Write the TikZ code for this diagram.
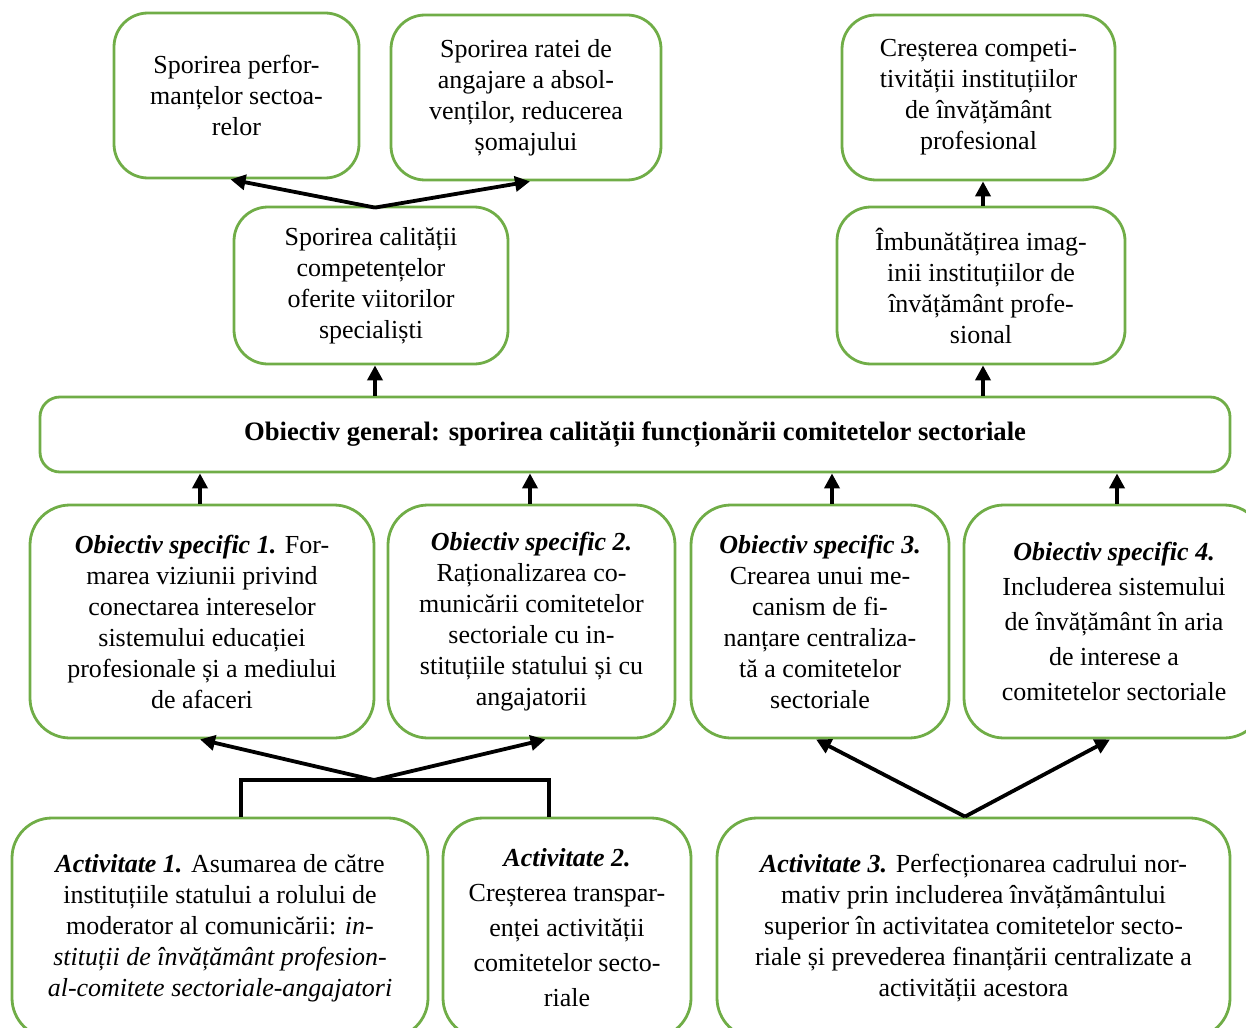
\documentclass[tikz,border=0pt]{standalone}
\usepackage{fontspec}
\setmainfont{Liberation Serif}
\usetikzlibrary{arrows.meta,calc}
\definecolor{boxgreen}{RGB}{112,173,71}
\tikzset{
  box/.style={draw=boxgreen, line width=2.8pt, rounded corners=34pt, inner sep=0pt, align=center,
    font=\fontsize{26}{31}\selectfont},
  wide/.style={font=\fontsize{26}{35}\selectfont},
  arr/.style={line width=3.8pt, -{Triangle[length=15pt,width=15pt]}},
  ln/.style={line width=3.5pt},
}
\newcommand{\bi}[1]{\textbf{\textit{#1}}}
\begin{document}
\begin{tikzpicture}[x=1pt,y=-1pt]
\useasboundingbox (0,0) rectangle (1246,1027);
\clip (0,0) rectangle (1246,1027);
% top row
\node[box, minimum width=245pt, minimum height=165pt] (B1) at (236.5,95.5) {Sporirea perfor-\\manțelor sectoa-\\relor};
\node[box, minimum width=270pt, minimum height=165pt] (B2) at (526,97.5) {Sporirea ratei de\\angajare a absol-\\venților, reducerea\\șomajului};
\node[box, minimum width=273pt, minimum height=165pt] (B3) at (978.5,97.5) {Creșterea competi-\\tivității instituțiilor\\de învățământ\\profesional};
% second row
\node[box, minimum width=274pt, minimum height=157pt] (B4) at (371,285.5) {Sporirea calității\\competențelor\\oferite viitorilor\\specialiști};
\node[box, minimum width=288pt, minimum height=157pt] (B5) at (981,285.5) {Îmbunătățirea imag-\\inii instituțiilor de\\învățământ profe-\\sional};
% general
\node[box, rounded corners=20pt, minimum width=1190pt, minimum height=75pt, font=\fontsize{26.6}{31}\selectfont] (G) at (635,434.5) {\textbf{Obiectiv general: sporirea calității funcționării comitetelor sectoriale}};
% objectives
\node[box, rounded corners=40pt, minimum width=344pt, minimum height=233pt] (O1) at (202,621.5) {\bi{Obiectiv specific 1.} For-\\marea viziunii privind\\conectarea intereselor\\sistemului educației\\profesionale și a mediului\\de afaceri};
\node[box, rounded corners=40pt, minimum width=287pt, minimum height=233pt] (O2) at (531.5,621.5) {\bi{Obiectiv specific 2.}\\Raționalizarea co-\\municării comitetelor\\sectoriale cu in-\\stituțiile statului și cu\\angajatorii};
\node[box, rounded corners=40pt, minimum width=258pt, minimum height=233pt] (O3) at (820,621.5) {\bi{Obiectiv specific 3.}\\Crearea unui me-\\canism de fi-\\nanțare centraliza-\\tă a comitetelor\\sectoriale};
\node[box, wide, rounded corners=40pt, minimum width=300pt, minimum height=233pt] (O4) at (1114,621.5) {\bi{Obiectiv specific 4.}\\Includerea sistemului\\de învățământ în aria\\de interese a\\comitetelor sectoriale};
% activities
\node[box, rounded corners=40pt, minimum width=416pt, minimum height=220pt] (A1) at (220,928) {\bi{Activitate 1.} Asumarea de către\\instituțiile statului a rolului de\\moderator al comunicării: \textit{in-}\\\textit{stituții de învățământ profesion-}\\\textit{al-comitete sectoriale-angajatori}};
\node[box, wide, rounded corners=40pt, minimum width=248pt, minimum height=220pt] (A2) at (567,928) {\bi{Activitate 2.}\\Creșterea transpar-\\enței activității\\comitetelor secto-\\riale};
\node[box, rounded corners=40pt, minimum width=513pt, minimum height=220pt] (A3) at (973.5,928) {\bi{Activitate 3.} Perfecționarea cadrului nor-\\mativ prin includerea învățământului\\superior în activitatea comitetelor secto-\\riale și prevederea finanțării centralizate a\\activității acestora};
% connectors top
\coordinate (f1) at ($(B4.north)+(4,2)$);
\draw[arr] (f1) -- ($(B1.south)+(-6,0)$);
\draw[arr] (f1) -- ($(B2.south)+(4,0)$);
\draw[arr] ($(G.north -| B4.south)+(4,0)$) -- ($(B4.south)+(4,0)$);
\draw[arr] ($(G.north -| B5.south)+(2,0)$) -- ($(B5.south)+(2,0)$);
\draw[arr] ($(B5.north)+(2,0)$) -- ($(B3.south -| B5.north)+(2,0)$);
% objectives to general
\draw[arr] ($(O1.north)+(-2,0)$) -- ($(G.south -| O1.north)+(-2,0)$);
\draw[arr] ($(O2.north)+(-1.5,0)$) -- ($(G.south -| O2.north)+(-1.5,0)$);
\draw[arr] ($(O3.north)+(12,0)$) -- ($(G.south -| O3.north)+(12,0)$);
\draw[arr] ($(O4.north)+(3,0)$) -- ($(G.south -| O4.north)+(3,0)$);
% activities
\coordinate (j1) at (374,780);
\draw[ln] ($(A1.north)+(21,0)$) |- (j1) -| ($(A2.north)+(-18,0)$);
\draw[arr] (j1) -- ($(O1.south)+(-2,0)$);
\draw[arr] (j1) -- ($(O2.south)+(14,0)$);
\coordinate (j2) at ($(A3.north)+(-8.5,0)$);
\draw[arr] (j2) -- ($(O3.south)+(-4,0)$);
\draw[arr] (j2) -- ($(O4.south)+(-4,0)$);
\end{tikzpicture}
\end{document}
